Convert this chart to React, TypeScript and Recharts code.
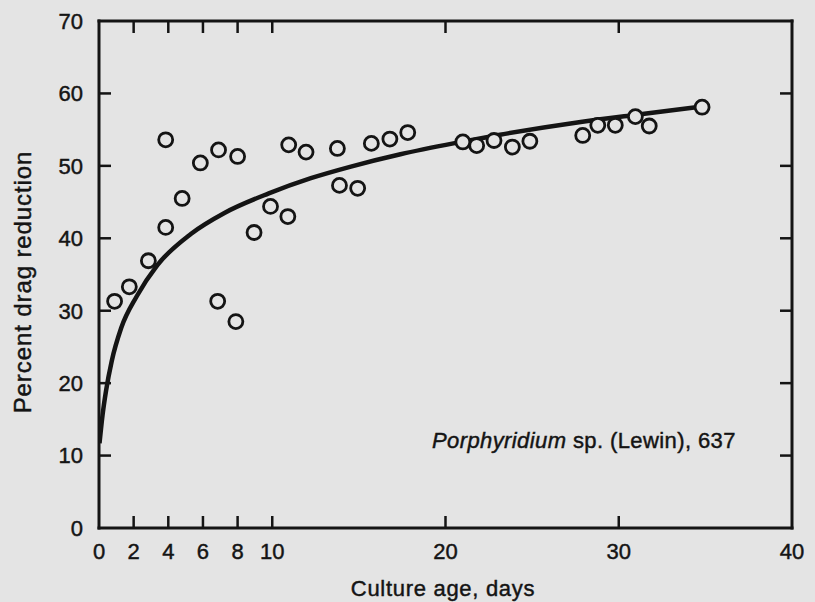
import React from 'react';
import { ComposedChart, XAxis, YAxis, Line, Scatter, Customized } from 'recharts';

// ---- data ----
const xTicks = [0, 2, 4, 6, 8, 10, 20, 30, 40];
const xInnerTicks = [2, 4, 6, 8, 10, 20, 30];
const yTicks = [0, 10, 20, 30, 40, 50, 60, 70];
const yInnerTicks = [10, 20, 30, 40, 50, 60];

const pointDays = [
  0.9, 1.75, 2.85, 3.85, 3.85, 4.8, 5.85, 6.9, 6.85, 8.0, 7.9, 8.95, 9.9, 10.9, 10.95, 11.95,
  13.76, 13.88, 14.93, 15.72, 16.79, 17.82, 21.0, 21.8, 22.8, 23.86, 24.87, 27.92, 28.79, 29.8,
  30.96, 31.76, 34.81,
];
const pointValues = [
  31.3, 33.3, 36.9, 41.5, 53.6, 45.5, 50.4, 52.2, 31.3, 51.3, 28.5, 40.8, 44.4, 43.0, 52.9, 51.9,
  52.4, 47.3, 46.9, 53.1, 53.7, 54.6, 53.3, 52.8, 53.5, 52.6, 53.4, 54.2, 55.6, 55.6,
  56.8, 55.5, 58.1,
];

const curveDays = [0.03, 0.2, 0.41, 0.73, 1.28, 2.18, 3.37, 5.3, 7.24, 9.8, 12.23, 14.54, 17.4, 20.67, 23.15, 27.9, 30.79, 34.81];
const curveValues = [11.7, 15.5, 19.0, 23.0, 27.6, 32.0, 36.3, 40.6, 43.5, 46.2, 48.3, 49.9, 51.6, 53.2, 54.3, 56.1, 57.0, 58.2];

const xAxisTitle = 'Culture age, days';
const yAxisTitle = 'Percent drag reduction';
const speciesName = 'Porphyridium';
const speciesRest = ' sp. (Lewin), 637';

// ---- styling ----
const INK = '#141414';
const BG = '#e4e4e4';
const FONT = '"Liberation Sans", Arial, Helvetica, sans-serif';
const TICK_LEN = 12;
const TEXT_STROKE = 0.45;

const points = pointDays.map((d, i) => ({ day: d, value: pointValues[i] }));
const curve = curveDays.map((d, i) => ({ day: d, value: curveValues[i] }));

const BottomTick = (props: any) => {
  const { x, y, payload } = props;
  const v = payload.value;
  return (
    <g>
      {xInnerTicks.includes(v) && (
        <line x1={x} x2={x} y1={y} y2={y - TICK_LEN} stroke={INK} strokeWidth={2.5} />
      )}
      <text x={x} y={y + 31} textAnchor="middle" fill={INK} stroke={INK} strokeWidth={TEXT_STROKE} fontSize={22} fontFamily={FONT}>
        {v}
      </text>
    </g>
  );
};

const TopTick = (props: any) => {
  const { x, y } = props;
  return <line x1={x} x2={x} y1={y} y2={y + TICK_LEN} stroke={INK} strokeWidth={2.5} />;
};

const LeftTick = (props: any) => {
  const { x, y, payload } = props;
  const v = payload.value;
  return (
    <g>
      {yInnerTicks.includes(v) && (
        <line x1={x} x2={x + TICK_LEN} y1={y} y2={y} stroke={INK} strokeWidth={2.5} />
      )}
      <text x={x - 16} y={y} dy="0.36em" textAnchor="end" fill={INK} stroke={INK} strokeWidth={TEXT_STROKE} fontSize={22} fontFamily={FONT}>
        {v}
      </text>
    </g>
  );
};

const RightTick = (props: any) => {
  const { x, y } = props;
  return <line x1={x} x2={x - TICK_LEN} y1={y} y2={y} stroke={INK} strokeWidth={2.5} />;
};

const Ring = (props: any) => {
  const { cx, cy } = props;
  if (cx == null || cy == null) return null;
  return <circle cx={cx} cy={cy} r={7} fill={BG} stroke={INK} strokeWidth={2.8} />;
};

const Texts = () => (
  <g fontFamily={FONT} fill={INK} stroke={INK} strokeWidth={TEXT_STROKE}>
    <text x={443} y={596} textAnchor="middle" fontSize={22} letterSpacing={0.7}>
      {xAxisTitle}
    </text>
    <text
      x={31}
      y={282}
      transform="rotate(-90, 31, 282)"
      textAnchor="middle"
      fontSize={24}
      letterSpacing={0.9}
    >
      {yAxisTitle}
    </text>
    <text x={432} y={448} fontSize={22} letterSpacing={0.4}>
      <tspan fontStyle="italic">{speciesName}</tspan>
      <tspan>{speciesRest}</tspan>
    </text>
  </g>
);

const axisLineStyle = { stroke: INK, strokeWidth: 3, strokeLinecap: 'square' as const };

export default function App() {
  return (
    <div style={{ position: 'absolute', left: 0, top: 0, width: 815, height: 602, background: BG }}>
      <ComposedChart
        width={815}
        height={602}
        margin={{ top: 11, right: 13, bottom: 30, left: 39 }}
      >
        <XAxis
          xAxisId="bottom"
          dataKey="day"
          type="number"
          domain={[0, 40]}
          ticks={xTicks}
          interval={0}
          allowDataOverflow
          height={44}
          tickSize={0}
          tickMargin={0}
          tickLine={false}
          axisLine={axisLineStyle}
          tick={<BottomTick />}
        />
        <XAxis
          xAxisId="top"
          orientation="top"
          dataKey="day"
          type="number"
          domain={[0, 40]}
          ticks={xInnerTicks}
          interval={0}
          allowDataOverflow
          height={10}
          tickSize={0}
          tickMargin={0}
          tickLine={false}
          axisLine={axisLineStyle}
          tick={<TopTick />}
        />
        <YAxis
          yAxisId="left"
          dataKey="value"
          type="number"
          domain={[0, 70]}
          ticks={yTicks}
          interval={0}
          allowDataOverflow
          width={60}
          tickSize={0}
          tickMargin={0}
          tickLine={false}
          axisLine={axisLineStyle}
          tick={<LeftTick />}
        />
        <YAxis
          yAxisId="right"
          orientation="right"
          dataKey="value"
          type="number"
          domain={[0, 70]}
          ticks={yInnerTicks}
          interval={0}
          allowDataOverflow
          width={10}
          tickSize={0}
          tickMargin={0}
          tickLine={false}
          axisLine={axisLineStyle}
          tick={<RightTick />}
        />
        <Line
          xAxisId="top"
          yAxisId="right"
          data={curve}
          dataKey="value"
          type="monotone"
          stroke={INK}
          strokeWidth={4.5}
          dot={false}
          activeDot={false}
          isAnimationActive={false}
        />
        <Scatter
          xAxisId="bottom"
          yAxisId="left"
          data={points}
          dataKey="value"
          shape={<Ring />}
          isAnimationActive={false}
        />
        <Customized component={Texts} />
      </ComposedChart>
    </div>
  );
}
